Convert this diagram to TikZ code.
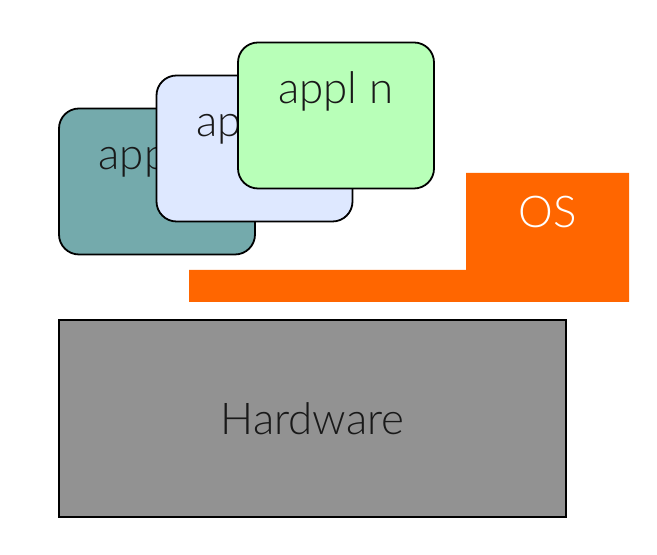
\documentclass[tikz,border=0pt]{standalone}
\usepackage{fontspec}
\setmainfont{Lato Light}
\usetikzlibrary{positioning}
\definecolor{tealbox}{HTML}{74AAAC}
\definecolor{bluebox}{HTML}{DEE8FF}
\definecolor{greenbox}{HTML}{B8FFB8}
\definecolor{osorange}{HTML}{FF6600}
\definecolor{hwgray}{HTML}{929292}
\tikzset{
  appbox/.style={draw=black, line width=1.8bp, rounded corners=20bp,
    minimum width=196bp, minimum height=146bp, inner sep=0pt},
  apptext/.style={anchor=base, yshift=-62bp, text=black!90,
    font=\fontsize{44}{50}\selectfont},
  bigtext/.style={font=\fontsize{44}{50}\selectfont}
}

\begin{document}
\begin{tikzpicture}[x=1bp, y=1bp]
\useasboundingbox (0,0) rectangle (657,555);
% applications, stacked
\node[appbox, fill=tealbox] (app1) at (157,373.5) {};
\node[apptext] (app1lbl) at (app1.north) {appl 1};
\node[appbox, fill=bluebox] (app2) at (254.5,406.5) {};
\node[apptext] (app2lbl) at (app2.north) {appl 2};
\node[appbox, fill=greenbox] (appn) at (336,439.5) {};
\node[apptext] (appnlbl) at (appn.north) {appl n};
% operating system
\fill[osorange] (466,382) -- (629,382) -- (629,253) -- (189,253) -- (189,285) -- (466,285) -- cycle;
\node[bigtext, text=white] (os) at (548,343.5) {OS};
% hardware
\node[bigtext, draw=black, fill=hwgray, line width=1.8bp, inner sep=0pt,
  minimum width=507bp, minimum height=197bp, text=black!90] (hw) at (312.5,136.5) {Hardware};
\end{tikzpicture}
\end{document}
